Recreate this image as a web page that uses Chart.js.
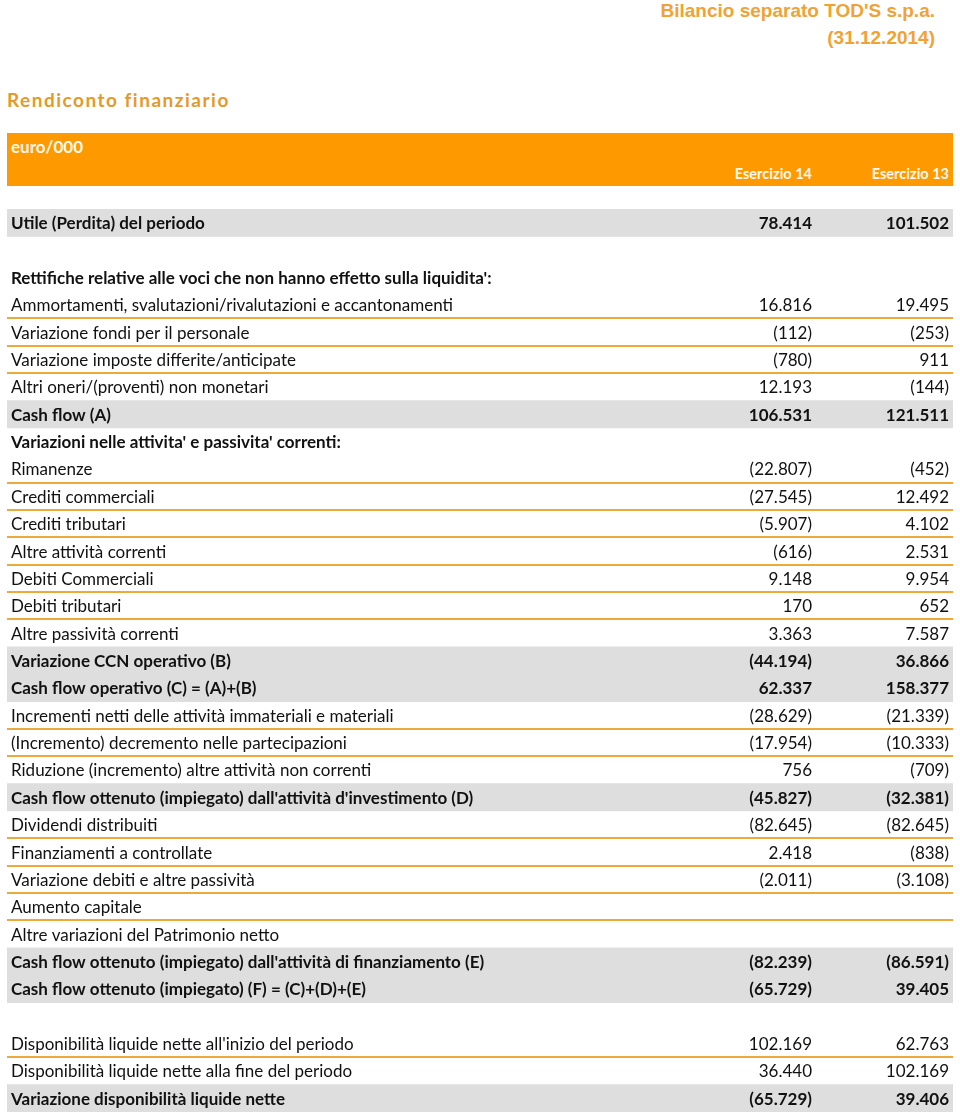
<!DOCTYPE html>
<html>
<head>
<meta charset="utf-8">
<script src="https://cdn.jsdelivr.net/npm/chart.js@4/dist/chart.umd.min.js"></script>
<style>
  html, body { margin: 0; padding: 0; background: #fff; }
  body { width: 960px; height: 1113px; position: relative; overflow: hidden; font-family: Lato, "Open Sans", sans-serif; }
  .top-title { position: absolute; right: 25px; color: #f0a234; font: bold 19px "Liberation Sans", Arial, sans-serif; text-align: right; }
  .section-title { position: absolute; left: 7px; top: 88px; color: #e39a2a; font: bold 19px Lato, sans-serif; letter-spacing: 1.5px; }
  .band { position: absolute; left: 7px; top: 133px; width: 946px; height: 53px; background: #fe9a00; }
  .band span { position: absolute; color: #fff8ee; font: bold 17px Lato, sans-serif; }
  #wrap { position: absolute; left: 0; top: 0; width: 960px; height: 1113px; }
</style>
</head>
<body>
<div class="top-title" style="top:0px">Bilancio separato TOD'S s.p.a.</div>
<div class="top-title" style="top:27px">(31.12.2014)</div>
<div class="section-title">Rendiconto finanziario</div>
<div class="band">
  <span style="left:4px; top:3px">euro/000</span>
  <span style="right:141px; top:32px; font-size:14.5px">Esercizio 14</span>
  <span style="right:4px; top:32px; font-size:14.5px">Esercizio 13</span>
</div>
<div id="wrap"><canvas id="table-chart"></canvas></div>
<script>
// rows of the statement, top to bottom ('' = empty spacer row)
const rowLabels = [
  'Utile (Perdita) del periodo',
  '',
  "Rettifiche relative alle voci che non hanno effetto sulla liquidita':",
  'Ammortamenti, svalutazioni/rivalutazioni e accantonamenti',
  'Variazione fondi per il personale',
  'Variazione imposte differite/anticipate',
  'Altri oneri/(proventi) non monetari',
  'Cash flow (A)',
  "Variazioni nelle attivita' e passivita' correnti:",
  'Rimanenze',
  'Crediti commerciali',
  'Crediti tributari',
  'Altre attività correnti',
  'Debiti Commerciali',
  'Debiti tributari',
  'Altre passività correnti',
  'Variazione CCN operativo (B)',
  'Cash flow operativo (C) = (A)+(B)',
  'Incrementi netti delle attività immateriali e materiali',
  '(Incremento) decremento nelle partecipazioni',
  'Riduzione (incremento) altre attività non correnti',
  "Cash flow ottenuto (impiegato) dall'attività d'investimento (D)",
  'Dividendi distribuiti',
  'Finanziamenti a controllate',
  'Variazione debiti e altre passività',
  'Aumento capitale',
  'Altre variazioni del Patrimonio netto',
  "Cash flow ottenuto (impiegato) dall'attività di finanziamento (E)",
  'Cash flow ottenuto (impiegato) (F) = (C)+(D)+(E)',
  '',
  "Disponibilità liquide nette all'inizio del periodo",
  'Disponibilità liquide nette alla fine del periodo',
  'Variazione disponibilità liquide nette'
];

// row type: total = shaded bold, section = bold heading, item = plain line
const rowKinds = [
  'total', '', 'section', 'item', 'item', 'item', 'item', 'total', 'section',
  'item', 'item', 'item', 'item', 'item', 'item', 'item', 'total', 'total',
  'item', 'item', 'item', 'total', 'item', 'item', 'item', 'item', 'item',
  'total', 'total', '', 'item', 'item', 'total'
];

const columnLabels = ['Esercizio 14', 'Esercizio 13'];

const esercizio14 = [
  78414, null, null, 16816, -112, -780, 12193, 106531, null,
  -22807, -27545, -5907, -616, 9148, 170, 3363, -44194, 62337,
  -28629, -17954, 756, -45827, -82645, 2418, -2011, null, null,
  -82239, -65729, null, 102169, 36440, -65729
];

const esercizio13 = [
  101502, null, null, 19495, -253, 911, -144, 121511, null,
  -452, 12492, 4102, 2531, 9954, 652, 7587, 36866, 158377,
  -21339, -10333, -709, -32381, -82645, -838, -3108, null, null,
  -86591, 39405, null, 62763, 102169, 39406
];

// layout (pixels along the x scale)
const BAND_LEFT = 7, BAND_RIGHT = 953;
const LABEL_X = 11, COL1_X = 812, COL2_X = 949;
const TEXT = '#111';
const SHADE = '#dedede';
const RULE = '#eda93a';

function fmt(v) {
  if (v == null) return '';
  const s = String(Math.abs(v)).replace(/\B(?=(\d{3})+(?!\d))/g, '.');
  return v < 0 ? '(' + s + ')' : s;
}

// a rule is drawn under a plain line when the next line is plain too
const ruleBelow = rowKinds.map((k, i) => k === 'item' && rowKinds[i + 1] === 'item');

const tableTextPlugin = {
  id: 'tableText',
  afterDatasetsDraw(chart) {
    const {ctx, scales: {x, y}} = chart;
    ctx.save();
    ctx.fillStyle = TEXT;
    ctx.textBaseline = 'middle';
    rowLabels.forEach((label, i) => {
      const py = y.getPixelForValue(i) + 1;
      const bold = rowKinds[i] === 'total' || rowKinds[i] === 'section';
      ctx.font = (bold ? 'bold 17px' : '17px') + ' Lato, "Open Sans", sans-serif';
      ctx.textAlign = 'left';
      ctx.fillText(label, x.getPixelForValue(LABEL_X), py);
      ctx.textAlign = 'right';
      ctx.fillText(fmt(esercizio14[i]), x.getPixelForValue(COL1_X), py);
      ctx.fillText(fmt(esercizio13[i]), x.getPixelForValue(COL2_X), py);
    });
    ctx.restore();
  }
};

new Chart(document.getElementById('table-chart'), {
  type: 'bar',
  data: {
    labels: rowLabels.map((l, i) => l || ' '.repeat(i + 1)),
    datasets: [{
      label: 'shade',
      data: rowKinds.map(k => k === 'total' ? [BAND_LEFT, BAND_RIGHT] : null),
      backgroundColor: SHADE,
      borderWidth: 0,
      barPercentage: 1,
      categoryPercentage: 1
    }]
  },
  options: {
    indexAxis: 'y',
    responsive: true,
    maintainAspectRatio: false,
    animation: false,
    layout: {padding: {top: 209, bottom: 1, left: 7, right: 7}},
    scales: {
      x: {type: 'linear', min: BAND_LEFT, max: BAND_RIGHT, display: false},
      y: {
        type: 'category',
        offset: true,
        ticks: {display: false},
        border: {display: false},
        grid: {
          offset: true,
          drawTicks: false,
          lineWidth: 2,
          color: c => (c.index > 0 && ruleBelow[c.index - 1]) ? RULE : 'rgba(0,0,0,0)'
        }
      }
    },
    plugins: {legend: {display: false}, tooltip: {enabled: false}}
  },
  plugins: [tableTextPlugin]
});
</script>
</body>
</html>
